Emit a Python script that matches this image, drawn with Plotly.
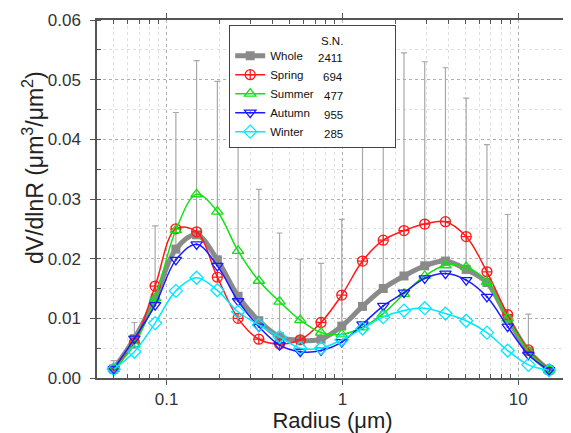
import math
import plotly.graph_objects as go

radius = [0.05, 0.065604, 0.086077, 0.112939, 0.148184, 0.194429, 0.255105,
          0.334716, 0.439173, 0.576227, 0.756052, 0.991996, 1.301571, 1.707757,
          2.240702, 2.939966, 3.857452, 5.061260, 6.640745, 8.713145, 11.432287, 15.0]

whole = [0.0015, 0.0066, 0.0134, 0.0216, 0.0240, 0.0198, 0.0137, 0.0096, 0.0069, 0.0063, 0.0065,
         0.0087, 0.0120, 0.0150, 0.0171, 0.0188, 0.0196, 0.0182, 0.0160, 0.0100, 0.0045, 0.0013]
whole_err = [0.0014, 0.0027, 0.0121, 0.0229, 0.0292, 0.0299, 0.0271, 0.0220, 0.0174, 0.0136, 0.0127,
             0.0179, 0.0312, 0.0388, 0.0374, 0.0342, 0.0324, 0.0287, 0.0231, 0.0174, 0.0062, 0.0]
spring = [0.0015, 0.0059, 0.0154, 0.0250, 0.0245, 0.0169, 0.0100, 0.0065, 0.0057, 0.0064, 0.0093,
          0.0139, 0.0196, 0.0231, 0.0247, 0.0258, 0.0262, 0.0237, 0.0178, 0.0106, 0.0047, 0.0014]
summer = [0.0015, 0.0056, 0.0134, 0.0248, 0.0308, 0.0279, 0.0213, 0.0163, 0.0128, 0.0097, 0.0076,
          0.0073, 0.0085, 0.0108, 0.0141, 0.0171, 0.0189, 0.0186, 0.0161, 0.0100, 0.0045, 0.0013]
autumn = [0.0015, 0.0066, 0.0122, 0.0198, 0.0224, 0.0188, 0.0129, 0.0086, 0.0055, 0.0044, 0.0046,
          0.0060, 0.0090, 0.0121, 0.0143, 0.0167, 0.0175, 0.0164, 0.0136, 0.0086, 0.0039, 0.0013]
winter = [0.0015, 0.0044, 0.0092, 0.0146, 0.0168, 0.0147, 0.0111, 0.0089, 0.0069, 0.0050, 0.0050,
          0.0064, 0.0083, 0.0102, 0.0113, 0.0117, 0.0108, 0.0096, 0.0076, 0.0046, 0.0022, 0.0013]

series_names = ["Whole", "Spring", "Summer", "Autumn", "Winter"]
sample_counts = ["2411", "694", "477", "955", "285"]
count_header = "S.N."

x_ticks = [0.1, 1, 10]
x_tick_text = ["0.1", "1", "10"]
x_minor = [0.05, 0.06, 0.07, 0.08, 0.09, 0.2, 0.3, 0.4, 0.5, 0.6, 0.7, 0.8, 0.9,
           2, 3, 4, 5, 6, 7, 8, 9]

x_title = "Radius (μm)"
y_title = "dV/dlnR (μm<sup>3</sup>/μm<sup>2</sup>)"

FONT = "Arial, Liberation Sans, sans-serif"
LEG_SIZE = 11.5

fig = go.Figure()

fig.add_trace(go.Scatter(
    x=radius, y=whole, name=series_names[0], mode="lines+markers",
    line=dict(color="#8a8a8a", width=5, shape="spline"),
    marker=dict(symbol="square", size=9, color="#8a8a8a"),
    error_y=dict(type="data", symmetric=False, array=whole_err,
                 arrayminus=[0] * len(whole_err), color="#a8a8a8",
                 thickness=1.2, width=3),
))

styles = [
    (spring, "#ff1a1a", "circle-cross-open"),
    (summer, "#14e014", "triangle-up-open"),
    (autumn, "#1a1aff", "triangle-down-open-dot"),
    (winter, "#00e8ff", "diamond-open"),
]
for i, (vals, col, sym) in enumerate(styles):
    fig.add_trace(go.Scatter(
        x=radius, y=vals, name=series_names[i + 1], mode="lines+markers",
        line=dict(color=col, width=1.5, shape="spline"),
        marker=dict(symbol=sym, size=10, color=col, line=dict(color=col, width=1.3)),
    ))

axis_common = dict(showline=True, linecolor="#555555", linewidth=1.5, mirror="ticks",
                   ticks="outside", ticklen=5, tickcolor="#555555", zeroline=False,
                   automargin=False,
                   tickfont=dict(family=FONT, size=17, color="#333333"),
                   showgrid=True, gridcolor="#b0b0b0", griddash="dot", gridwidth=1)

fig.update_xaxes(type="log", range=[math.log10(0.0402), math.log10(19.2)],
                 tickvals=x_ticks, ticktext=x_tick_text, ticklabelstandoff=0,
                 minor=dict(tickvals=x_minor, ticks="inside", ticklen=4, tickcolor="#555555",
                            showgrid=True, gridcolor="#e0e0e0", griddash="dot", gridwidth=1),
                 title=dict(text=x_title, font=dict(family=FONT, size=22, color="#222222"),
                            standoff=10),
                 **axis_common)
fig.update_yaxes(range=[0, 0.06], dtick=0.01, tickformat=".2f", ticklabelstandoff=6,
                 minor=dict(dtick=0.005, ticks="inside", ticklen=4, tickcolor="#555555",
                            showgrid=True, gridcolor="#e0e0e0", griddash="dot", gridwidth=1),
                 **axis_common)

# plot area in window pixels: x 97..568, y 20..378 (page body has an 8px margin)
def py(p):
    return (378 - p) / 358.0

def px(p):
    return (p - 97) / 471.0

row_px = [58, 77, 96, 115, 134]
annots = [dict(x=px(345), y=py(41), xref="paper", yref="paper", xanchor="right",
               yanchor="middle", text=count_header, showarrow=False,
               font=dict(family=FONT, size=LEG_SIZE, color="#111111"))]
for cnt, r in zip(sample_counts, row_px):
    annots.append(dict(x=px(345), y=py(r), xref="paper", yref="paper", xanchor="right",
                       yanchor="middle", text=cnt, showarrow=False,
                       font=dict(family=FONT, size=LEG_SIZE, color="#111111")))
annots.append(dict(x=px(33), y=py(168), xref="paper", yref="paper", xanchor="center",
                   yanchor="middle", textangle=-90, text=y_title, showarrow=False,
                   font=dict(family=FONT, size=23, color="#222222")))

fig.update_layout(
    width=563, height=425,
    margin=dict(l=89, r=3, t=12, b=55, autoexpand=False),
    paper_bgcolor="white", plot_bgcolor="white",
    showlegend=True,
    legend=dict(x=px(229), y=py(25), xanchor="left", yanchor="top",
                bgcolor="white", bordercolor="#444444", borderwidth=1.2,
                font=dict(family=FONT, size=LEG_SIZE, color="#111111"),
                itemwidth=30,
                title=dict(text="&nbsp;" * 50, font=dict(family=FONT, size=LEG_SIZE))),
    annotations=annots,
    font=dict(family=FONT),
)

fig.write_html("out.html")
